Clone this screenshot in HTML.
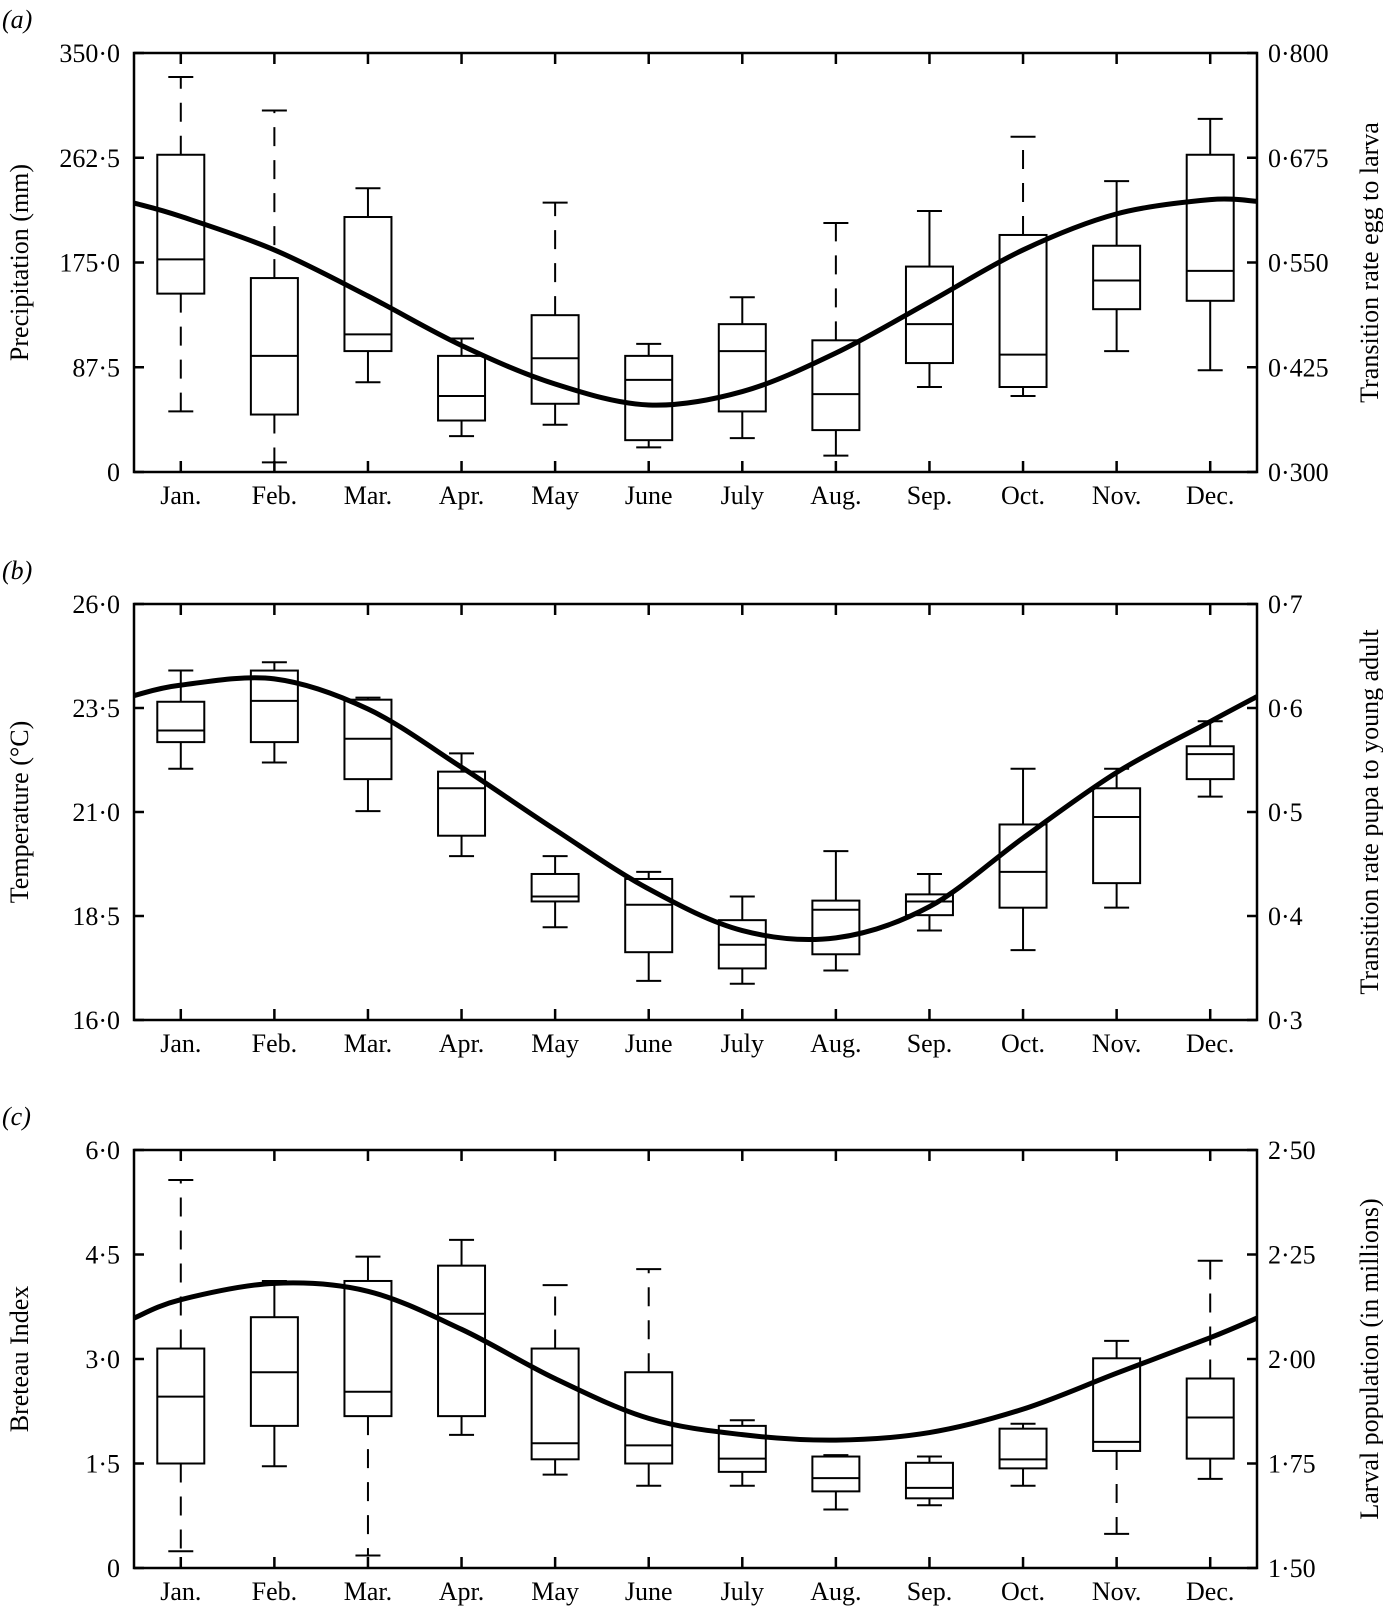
<!DOCTYPE html>
<html><head><meta charset="utf-8"><style>
body{margin:0;background:#fff}
svg{display:block;font-family:"Liberation Serif",serif}
</style></head><body>
<svg id="chart" width="1383" height="1607" viewBox="0 0 1383 1607" xmlns="http://www.w3.org/2000/svg"></svg>
<script>
const months = ["Jan.","Feb.","Mar.","Apr.","May","June","July","Aug.","Sep.","Oct.","Nov.","Dec."];
// Panel a: precipitation
const aHigh = [330,302,237,111.5,225,107,146,208,218,280,243,295];
const aQ3   = [265,162,213,97,131,97,123.5,110,171.6,198,189,265];
const aMed  = [177.6,97,115,63.5,95,77,101,65,123.5,98,160,168];
const aQ1   = [149,48,101,43,57,26.6,50.6,35,91,71,136,143];
const aLow  = [50.6,8,75,30,39.5,20.6,28.3,13.7,71,63.5,101,85];
const aDashHi = [1,1,0,0,1,0,0,1,0,1,0,0];
const aDashLo = [1,1,0,0,0,0,0,0,0,0,0,0];
const aCurve = [0.621,0.605,0.565,0.51,0.451,0.405,0.38,0.396,0.442,0.503,0.565,0.608,0.625,0.623];
const aLeftTicks = ["350·0","262·5","175·0","87·5","0"];
const aRightTicks = ["0·800","0·675","0·550","0·425","0·300"];
// Panel b: temperature
const bHigh = [24.4,24.6,23.75,22.41,19.94,19.56,18.97,20.06,19.51,22.04,22.04,23.18];
const bQ3   = [23.65,24.4,23.7,21.97,19.51,19.39,18.4,18.87,19.02,20.7,21.57,22.58];
const bMed  = [22.96,23.67,22.76,21.57,18.97,18.77,17.81,18.65,18.85,19.56,20.88,22.39];
const bQ1   = [22.68,22.68,21.79,20.43,18.85,17.63,17.24,17.58,18.52,18.7,19.29,21.79];
const bLow  = [22.04,22.19,21.02,19.94,18.23,16.94,16.87,17.19,18.15,17.68,18.7,21.37];
const bDashHi = [0,0,0,0,0,0,0,0,0,0,0,0];
const bDashLo = [0,0,0,0,0,0,0,0,0,0,0,0];
const bCurve = [0.612,0.622,0.628,0.599,0.543,0.483,0.426,0.386,0.379,0.409,0.475,0.538,0.587,0.611];
const bLeftTicks = ["26·0","23·5","21·0","18·5","16·0"];
const bRightTicks = ["0·7","0·6","0·5","0·4","0·3"];
// Panel c: Breteau index
const cHigh = [5.57,4.12,4.47,4.71,4.06,4.29,2.12,1.62,1.6,2.07,3.26,4.41];
const cQ3   = [3.15,3.6,4.12,4.34,3.15,2.81,2.04,1.6,1.51,2.0,3.01,2.72];
const cMed  = [2.46,2.81,2.53,3.65,1.79,1.76,1.57,1.29,1.15,1.56,1.81,2.16];
const cQ1   = [1.5,2.04,2.18,2.18,1.56,1.5,1.38,1.1,1.0,1.43,1.68,1.57];
const cLow  = [0.24,1.46,0.18,1.91,1.34,1.18,1.18,0.84,0.9,1.18,0.49,1.28];
const cDashHi = [1,0,0,0,1,1,0,0,0,0,0,1];
const cDashLo = [1,0,1,0,0,0,0,0,0,0,1,0];
const cCurve = [2.098,2.142,2.181,2.162,2.071,1.953,1.858,1.819,1.806,1.824,1.88,1.966,2.051,2.098];
const cLeftTicks = ["6·0","4·5","3·0","1·5","0"];
const cRightTicks = ["2·50","2·25","2·00","1·75","1·50"];

const NS="http://www.w3.org/2000/svg";
const svg=document.getElementById('chart');
const X0=134,X1=1257,STEP=(X1-X0)/12;
function mk(tag,attrs,parent){const e=document.createElementNS(NS,tag);for(const k in attrs)e.setAttribute(k,attrs[k]);(parent||svg).appendChild(e);return e;}
function xC(i){return X0+(i+0.5)*STEP;}

function panel(p){
  const g=mk('g',{});
  
  
  const yL=v=>p.bot-(v-p.lmin)/(p.lmax-p.lmin)*(p.bot-p.top);
  const yR=v=>p.bot-(v-p.rmin)/(p.rmax-p.rmin)*(p.bot-p.top);
  const fr=mk('rect',{x:X0,y:p.top,width:X1-X0,height:p.bot-p.top,fill:'none',stroke:'#000','stroke-width':2.5},g);
  
  
  const pl=mk('text',{x:2,y:p.top-25,'font-size':26,'font-style':'italic'},g);
  pl.textContent='('+p.id+')';
  
  
  // left ticks
  for(let k=0;k<5;k++){
    const y=p.top+k*(p.bot-p.top)/4;
    mk('line',{x1:X0,x2:X0+10,y1:y,y2:y,stroke:'#000','stroke-width':2.5},g);
    mk('line',{x1:X1,x2:X1-10,y1:y,y2:y,stroke:'#000','stroke-width':2.5},g);
    const t=mk('text',{x:120,y:y+9,'font-size':26,'text-anchor':'end'},g);
    t.textContent=p.lt[k];
    
    
    const t2=mk('text',{x:1268,y:y+9,'font-size':26},g);
    t2.textContent=p.rt[k];
    
    
  }
  // month ticks and labels
  months.forEach((m,i)=>{
    const x=xC(i);
    mk('line',{x1:x,x2:x,y1:p.bot,y2:p.bot-11,stroke:'#000','stroke-width':2.5},g);
    mk('line',{x1:x,x2:x,y1:p.top,y2:p.top+11,stroke:'#000','stroke-width':2.5},g);
    const t=mk('text',{x:x,y:p.bot+32,'font-size':26,'text-anchor':'middle'},g);
    t.textContent=m;
    
    
  });
  // titles
  const lt=mk('text',{x:0,y:0,'font-size':26,'text-anchor':'middle',transform:`translate(28,${(p.top+p.bot)/2}) rotate(-90)`},g);
  lt.textContent=p.ltitle;
  
  
  const rt=mk('text',{x:0,y:0,'font-size':26,'text-anchor':'middle',transform:`translate(1378,${(p.top+p.bot)/2}) rotate(-90)`},g);
  rt.textContent=p.rtitle;
  
  
  // boxes
  const BW=47,CW=25;
  months.forEach((m,i)=>{
    const x=xC(i);
    const bg=mk('g',{fill:'none',stroke:'#000','stroke-width':2},g);
    
    
    mk('line',{x1:x,x2:x,y1:yL(p.q3[i]),y2:yL(p.hi[i]),'stroke-dasharray':p.dh[i]?'19,14':'none'},bg);
    mk('line',{x1:x,x2:x,y1:yL(p.q1[i]),y2:yL(p.lo[i]),'stroke-dasharray':p.dl[i]?'19,14':'none'},bg);
    mk('line',{x1:x-CW/2,x2:x+CW/2,y1:yL(p.hi[i]),y2:yL(p.hi[i])},bg);
    mk('line',{x1:x-CW/2,x2:x+CW/2,y1:yL(p.lo[i]),y2:yL(p.lo[i])},bg);
    mk('rect',{x:x-BW/2,y:yL(p.q3[i]),width:BW,height:yL(p.q1[i])-yL(p.q3[i]),fill:'#fff'},bg);
    mk('line',{x1:x-BW/2,x2:x+BW/2,y1:yL(p.med[i]),y2:yL(p.med[i])},bg);
  });
  // curve: points at left edge, month centres, right edge
  const pts=p.curve.map((v,k)=>[k===0?X0:(k===13?X1:xC(k-1)),yR(v)]);
  let d=`M${pts[0][0]},${pts[0][1]}`;
  for(let k=0;k<pts.length-1;k++){
    const p0=pts[Math.max(0,k-1)],p1=pts[k],p2=pts[k+1],p3=pts[Math.min(pts.length-1,k+2)];
    const c1=[p1[0]+(p2[0]-p0[0])/6,p1[1]+(p2[1]-p0[1])/6];
    const c2=[p2[0]-(p3[0]-p1[0])/6,p2[1]-(p3[1]-p1[1])/6];
    d+=` C${c1[0]},${c1[1]} ${c2[0]},${c2[1]} ${p2[0]},${p2[1]}`;
  }
  const c=mk('path',{d:d,fill:'none',stroke:'#000','stroke-width':5},g);
  
  
}
panel({id:'a',top:53,bot:472,lmin:0,lmax:350,rmin:0.3,rmax:0.8,hi:aHigh,q3:aQ3,med:aMed,q1:aQ1,lo:aLow,dh:aDashHi,dl:aDashLo,curve:aCurve,lt:aLeftTicks,rt:aRightTicks,ltitle:'Precipitation (mm)',rtitle:'Transition rate egg to larva'});
panel({id:'b',top:604,bot:1020,lmin:16,lmax:26,rmin:0.3,rmax:0.7,hi:bHigh,q3:bQ3,med:bMed,q1:bQ1,lo:bLow,dh:bDashHi,dl:bDashLo,curve:bCurve,lt:bLeftTicks,rt:bRightTicks,ltitle:'Temperature (°C)',rtitle:'Transition rate pupa to young adult'});
panel({id:'c',top:1150,bot:1568,lmin:0,lmax:6,rmin:1.5,rmax:2.5,hi:cHigh,q3:cQ3,med:cMed,q1:cQ1,lo:cLow,dh:cDashHi,dl:cDashLo,curve:cCurve,lt:cLeftTicks,rt:cRightTicks,ltitle:'Breteau Index',rtitle:'Larval population (in millions)'});
</script>
</body></html>
